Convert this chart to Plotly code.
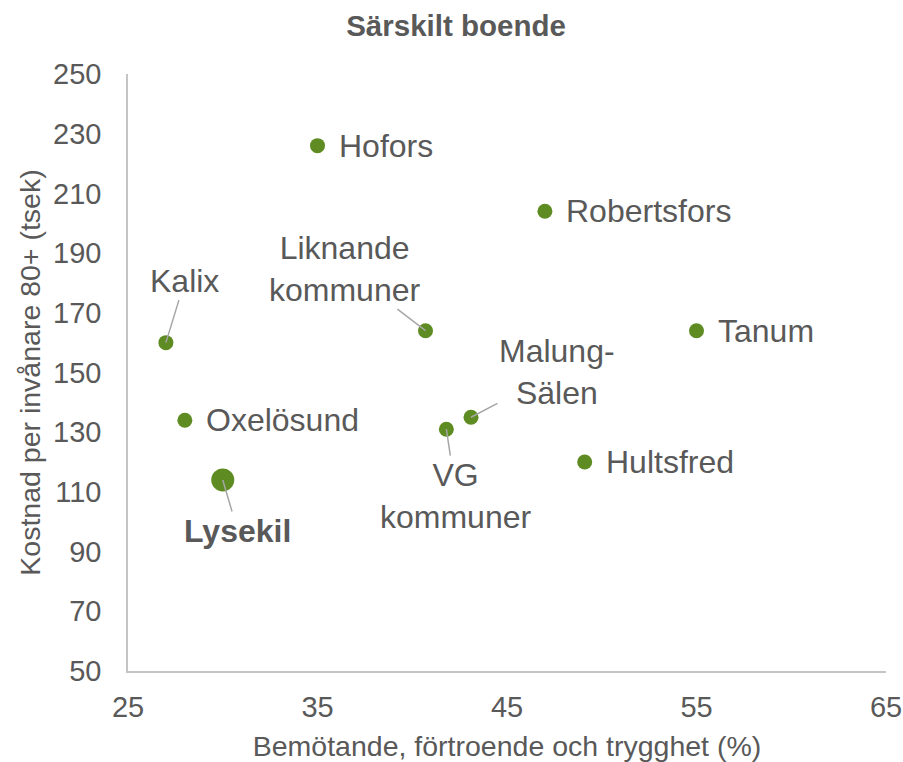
import plotly.graph_objects as go

names = ["Hofors", "Robertsfors", "Liknande<br>kommuner", "Tanum", "Kalix", "Oxelösund",
         "Malung-<br>Sälen", "VG<br>kommuner", "Hultsfred", "<b>Lysekil</b>"]
x_vals = [35.0, 47.0, 40.7, 55.0, 27.0, 28.0, 43.1, 41.8, 49.1, 30.0]
y_vals = [226, 204, 164, 164, 160, 134, 135, 131, 120, 114]
marker_sizes = [15, 15, 15, 15, 15, 15, 15, 15, 15, 23]
# label offsets (pixels) relative to point; None => label placed to the right without leader
label_ax = [None, None, -81, None, 19, None, 86, 10, None, 15]
label_ay = [None, None, -62, None, -62, None, -45, 67, None, 51]

x_ticks = [25, 35, 45, 55, 65]
y_ticks = [50, 70, 90, 110, 130, 150, 170, 190, 210, 230, 250]

GREEN = "#5E8B22"
TEXT = "#595959"
LEAD = "#A6A6A6"
AXIS = "#C4C4C4"
FONT = "Liberation Sans, Arial, sans-serif"

fig = go.Figure()
fig.add_trace(go.Scatter(
    x=x_vals, y=y_vals, mode="markers",
    marker=dict(color=GREEN, size=marker_sizes, opacity=1, line=dict(width=0)),
    hoverinfo="skip", showlegend=False,
))

annotations = []
for n, xv, yv, ax, ay in zip(names, x_vals, y_vals, label_ax, label_ay):
    if ax is None:
        annotations.append(dict(x=xv, y=yv, text=n, showarrow=False, xanchor="left",
                                yanchor="middle", xshift=19,
                                font=dict(size=32, color=TEXT, family=FONT)))
    else:
        annotations.append(dict(x=xv, y=yv, text=n, showarrow=True, ax=ax, ay=ay,
                                arrowhead=0, arrowwidth=1.5, arrowcolor=LEAD, standoff=0,
                                font=dict(size=32, color=TEXT, family=FONT)))

fig.update_layout(
    template="none",
    width=903, height=762,
    margin=dict(l=128, r=17, t=74, b=91, autoexpand=False),
    paper_bgcolor="white", plot_bgcolor="white",
    title=dict(text="<b>Särskilt boende</b>", x=456 / 903, xref="container", xanchor="center",
               y=1 - 26 / 762, yref="container", yanchor="middle",
               font=dict(size=29.5, color=TEXT, family=FONT)),
    xaxis=dict(range=[25, 65], tickvals=x_ticks, ticktext=[str(v) for v in x_ticks],
               showgrid=False, zeroline=False, showline=True, linecolor=AXIS,
               linewidth=1.5, ticks="", automargin=False, ticklabelstandoff=9,
               tickfont=dict(size=29, color=TEXT, family=FONT),
               title=dict(text="Bemötande, förtroende och trygghet (%)", standoff=23,
                          font=dict(size=28.5, color=TEXT, family=FONT))),
    yaxis=dict(range=[50, 250], tickvals=y_ticks, ticktext=[str(v) for v in y_ticks],
               showgrid=False, zeroline=False, showline=True, linecolor=AXIS,
               linewidth=1.5, ticks="", automargin=False, ticklabelstandoff=19,
               tickfont=dict(size=29, color=TEXT, family=FONT),
               title=dict(text="Kostnad per invånare 80+ (tsek)", standoff=4,
                          font=dict(size=28.5, color=TEXT, family=FONT))),
    annotations=annotations,
)

fig.write_html("out.html", config={"displayModeBar": False},
               post_script="document.body.style.margin='0';document.body.style.overflow='hidden';")
